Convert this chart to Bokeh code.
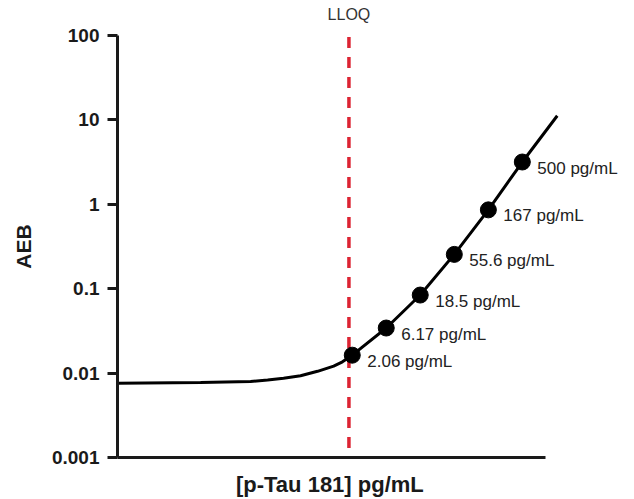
from bokeh.plotting import figure
from bokeh.models import ColumnDataSource, FixedTicker, Range1d, LogAxis
from bokeh.embed import file_html
from bokeh.resources import INLINE
from bokeh.core.properties import value

# ---- data ----
# calibrator points
conc = [2.06, 6.17, 18.5, 55.6, 167, 500]
aeb = [0.0163, 0.0342, 0.0841, 0.255, 0.859, 3.17]
point_labels = ["2.06 pg/mL", "6.17 pg/mL", "18.5 pg/mL", "55.6 pg/mL", "167 pg/mL", "500 pg/mL"]

# fitted curve
curve_conc = [0.00105, 0.0154, 0.0773, 0.134, 0.224, 0.388, 0.671, 1.13, 1.5,
              2.06, 6.17, 18.5, 55.6, 167, 500, 1545]
curve_aeb = [0.00759, 0.00774, 0.00794, 0.0083, 0.00869, 0.00929, 0.0105, 0.0121, 0.0136,
             0.0163, 0.0342, 0.0841, 0.255, 0.859, 3.17, 11.2]

lloq = [1.85]
lloq_label = "LLOQ"

y_ticks = [0.001, 0.01, 0.1, 1, 10, 100]
y_tick_labels = ["0.001", "0.01", "0.1", "1", "10", "100"]

x_title = "[p-Tau 181] pg/mL"
x_title_pos = [1.0]   # centre of the drawn x-axis line

FONT = "Liberation Sans"
DARK = "#1a1a1a"

p = figure(width=634, height=499, x_axis_type="log", y_axis_type="log",
           x_range=Range1d(0.00105, 14000), y_range=Range1d(0.001, 100),
           output_backend="svg", toolbar_location=None,
           min_border_left=117, min_border_right=9, min_border_top=35, min_border_bottom=39)
p.outline_line_color = None
p.xgrid.visible = False
p.ygrid.visible = False
p.background_fill_color = "white"
p.border_fill_color = "white"

# y axis
ya = p.yaxis[0]
ya.ticker = FixedTicker(ticks=y_ticks)
ya.major_label_overrides = {t: l for t, l in zip(y_ticks, y_tick_labels)}
ya.minor_tick_line_color = None
ya.major_tick_in = 0
ya.major_tick_out = 10
ya.major_tick_line_width = 3
ya.major_tick_line_color = DARK
ya.axis_line_width = 3
ya.axis_line_color = DARK
ya.major_label_text_font = FONT
ya.major_label_text_font_size = "19px"
ya.major_label_text_font_style = "bold"
ya.major_label_text_color = DARK
ya.major_label_standoff = 8
ya.axis_label = "AEB"
ya.axis_label_text_font = FONT
ya.axis_label_text_font_size = "21px"
ya.axis_label_text_font_style = "bold"
ya.axis_label_text_color = DARK
ya.axis_label_standoff = 14

# x axis: line limited to the data span, title centred on that line
xa = p.xaxis[0]
xa.ticker = FixedTicker(ticks=x_title_pos)
xa.major_label_overrides = {x_title_pos[0]: x_title}
xa.minor_tick_line_color = None
xa.major_tick_line_color = None
xa.major_tick_out = 0
xa.major_tick_in = 0
xa.major_label_standoff = 14
xa.major_label_text_font = FONT
xa.major_label_text_font_size = "22px"
xa.major_label_text_font_style = "bold"
xa.major_label_text_color = DARK
xa.axis_line_width = 3
xa.axis_line_color = DARK
xa.bounds = (0.00105, 1057)

# LLOQ label as a top axis tick label
top = LogAxis(ticker=FixedTicker(ticks=lloq),
              major_label_overrides={lloq[0]: lloq_label})
top.axis_line_color = None
top.major_tick_line_color = None
top.minor_tick_line_color = None
top.major_tick_out = 0
top.major_tick_in = 0
top.major_label_standoff = 13
top.major_label_text_font = FONT
top.major_label_text_font_size = "16px"
top.major_label_text_color = "#333333"
p.add_layout(top, "above")

# LLOQ dashed line
p.segment(x0=lloq, y0=[0.0013], x1=lloq, y1=[100], line_color="#dc2433",
          line_width=3.5, line_dash="11 9")

# fitted curve
p.line(curve_conc, curve_aeb, line_color="black", line_width=3)

# points
src = ColumnDataSource(dict(x=conc, y=aeb, lab=point_labels))
p.scatter("x", "y", source=src, size=16, fill_color="black", line_color="black")
p.text("x", "y", text="lab", source=src, x_offset=15, y_offset=6,
       text_font=value(FONT), text_font_size="17px", text_color="#222222",
       text_baseline="middle", text_align="left")

open("out.html", "w").write(file_html(p, INLINE))
